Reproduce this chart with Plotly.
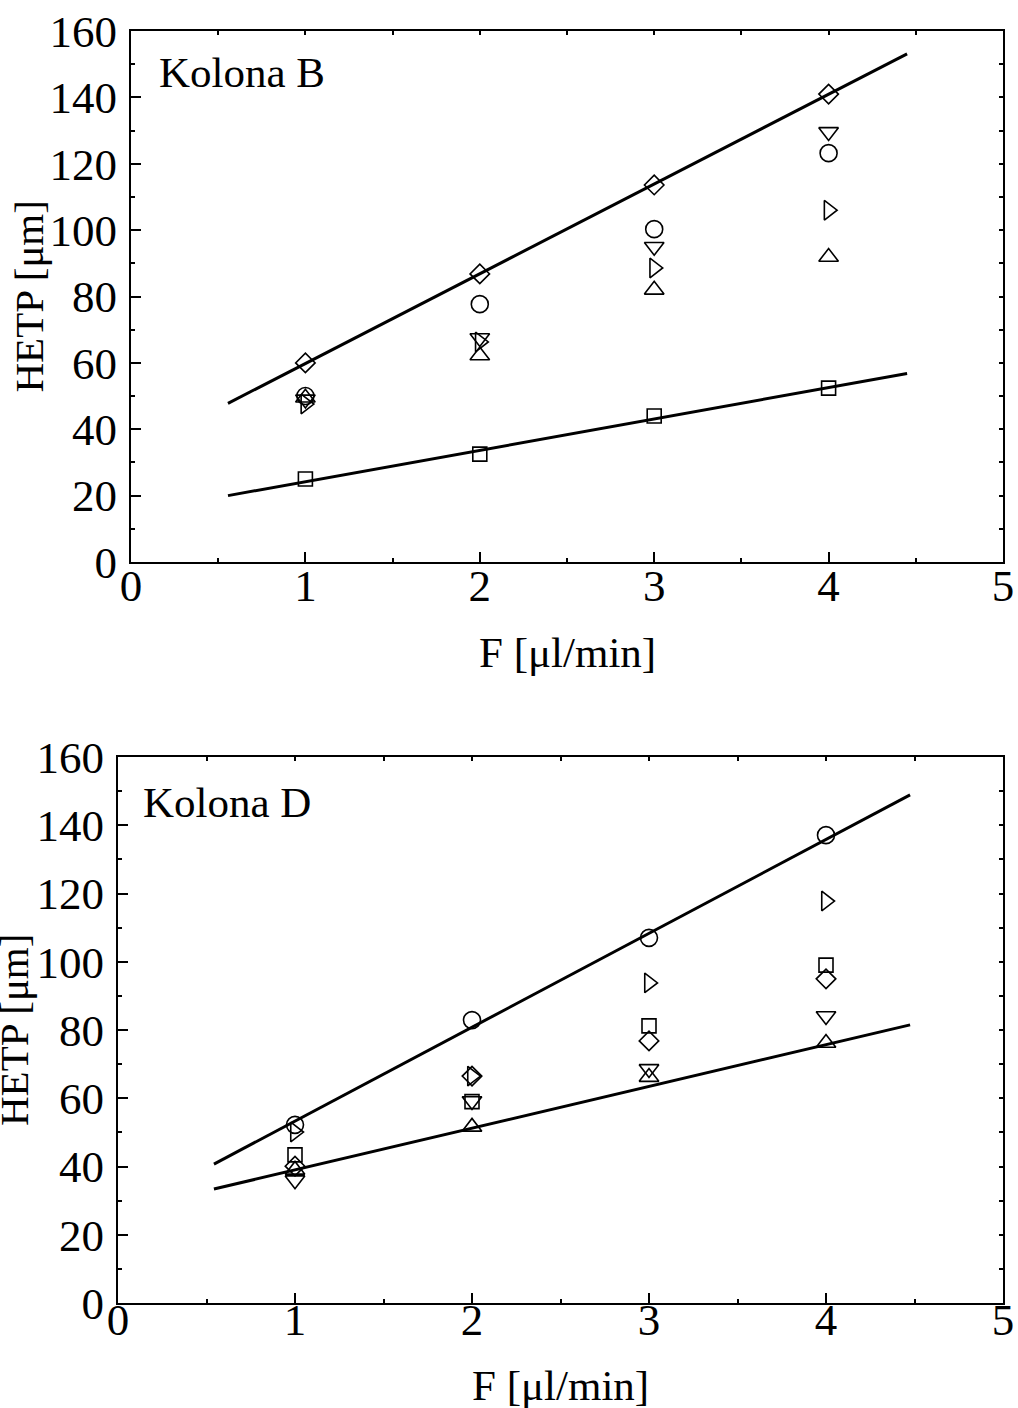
import plotly.graph_objects as go

# ---- Data ----
flow = [1, 2, 3, 4]

# Kolona B
b_diamond = [60.0, 86.8, 113.6, 141.0]
b_circle = [50.0, 77.7, 100.3, 123.2]
b_tri_down = [49.0, 67.5, 95.0, 129.6]
b_tri_right = [47.6, 66.3, 88.6, 106.0]
b_tri_up = [49.5, 62.2, 82.0, 91.9]
b_square = [25.0, 32.5, 44.0, 52.4]
b_fit1_x = [0.556, 4.45]
b_fit1_y = [47.8, 153.1]
b_fit2_x = [0.556, 4.45]
b_fit2_y = [20.0, 56.8]

# Kolona D
d_circle = [52.2, 82.9, 107.0, 137.1]
d_tri_right = [50.1, 66.5, 93.8, 117.8]
d_square = [43.4, 59.0, 81.2, 99.0]
d_diamond = [40.1, 66.5, 76.8, 95.0]
d_tri_down = [36.0, 59.2, 68.6, 84.1]
d_tri_up = [39.0, 51.6, 66.2, 76.2]
d_fit1_x = [0.542, 4.475]
d_fit1_y = [40.7, 148.9]
d_fit2_x = [0.542, 4.475]
d_fit2_y = [33.4, 81.5]

x_ticks = [0, 1, 2, 3, 4, 5]
y_ticks = [0, 20, 40, 60, 80, 100, 120, 140, 160]

FONT = "Liberation Serif"
FS_TICK = 45
FS_TEXT = 43
FS_YTITLE = 41

SIZES = {"circle-open": 17, "diamond-open": 15, "square-open": 14,
         "triangle-up-open": 17, "triangle-down-open": 17,
         "triangle-right-open": 17}

fig = go.Figure()

def add_markers(x, y, symbol, xa, ya):
    fig.add_trace(go.Scatter(
        x=x, y=y, mode="markers", xaxis=xa, yaxis=ya, showlegend=False,
        marker=dict(symbol=symbol, size=SIZES[symbol], color="black",
                    line=dict(color="black", width=1.6))))

def add_line(x, y, xa, ya):
    fig.add_trace(go.Scatter(
        x=x, y=y, mode="lines", xaxis=xa, yaxis=ya, showlegend=False,
        line=dict(color="black", width=3)))

# top panel
add_line(b_fit1_x, b_fit1_y, "x", "y")
add_line(b_fit2_x, b_fit2_y, "x", "y")
add_markers(flow, b_diamond, "diamond-open", "x", "y")
add_markers(flow, b_circle, "circle-open", "x", "y")
add_markers(flow, b_tri_down, "triangle-down-open", "x", "y")
add_markers(flow, b_tri_right, "triangle-right-open", "x", "y")
add_markers(flow, b_tri_up, "triangle-up-open", "x", "y")
add_markers(flow, b_square, "square-open", "x", "y")

# bottom panel
add_line(d_fit1_x, d_fit1_y, "x2", "y2")
add_line(d_fit2_x, d_fit2_y, "x2", "y2")
add_markers(flow, d_circle, "circle-open", "x2", "y2")
add_markers(flow, d_tri_right, "triangle-right-open", "x2", "y2")
add_markers(flow, d_square, "square-open", "x2", "y2")
add_markers(flow, d_diamond, "diamond-open", "x2", "y2")
add_markers(flow, d_tri_down, "triangle-down-open", "x2", "y2")
add_markers(flow, d_tri_up, "triangle-up-open", "x2", "y2")

W, H = 1018, 1408
top_x = [131 / W, 1003 / W]
top_y = [1 - 562 / H, 1 - 31 / H]
bot_x = [118 / W, 1003 / W]
bot_y = [1 - 1303 / H, 1 - 757 / H]

def xaxis(domain, anchor, standoff):
    return dict(domain=domain, anchor=anchor, range=[0, 5], tickvals=x_ticks,
                ticktext=[str(v) for v in x_ticks], ticks="inside", ticklen=10,
                tickwidth=2, tickcolor="black", showline=True, linecolor="black",
                linewidth=2, mirror=True, showgrid=False, zeroline=False,
                automargin=False, ticklabelstandoff=standoff,
                tickfont=dict(family=FONT, size=FS_TICK, color="black"),
                minor=dict(ticks="inside", ticklen=4, dtick=0.5, tick0=0,
                           tickcolor="black", tickwidth=1.5))

def yaxis(domain, anchor):
    return dict(domain=domain, anchor=anchor, range=[0, 160], tickvals=y_ticks,
                ticktext=[str(v) for v in y_ticks], ticks="inside", ticklen=10,
                tickwidth=2, tickcolor="black", showline=True, linecolor="black",
                linewidth=2, mirror=True, showgrid=False, zeroline=False,
                automargin=False, ticklabelstandoff=3,
                tickfont=dict(family=FONT, size=FS_TICK, color="black"),
                minor=dict(ticks="inside", ticklen=4, dtick=10, tick0=0,
                           tickcolor="black", tickwidth=1.5))

def mirror_x(domain, overlay):
    return dict(domain=domain, overlaying=overlay, side="top", range=[0, 5],
                dtick=0.5, tick0=0, ticks="inside", ticklen=4, tickwidth=1.5,
                tickcolor="black", showticklabels=False, showgrid=False,
                zeroline=False, showline=False, automargin=False)

def mirror_y(domain, overlay):
    return dict(domain=domain, overlaying=overlay, side="right", range=[0, 160],
                dtick=10, tick0=0, ticks="inside", ticklen=4, tickwidth=1.5,
                tickcolor="black", showticklabels=False, showgrid=False,
                zeroline=False, showline=False, automargin=False)

fig.update_layout(
    template="none",
    width=W, height=H, margin=dict(l=0, r=0, t=0, b=0, pad=0),
    paper_bgcolor="white", plot_bgcolor="white",
    font=dict(family=FONT, size=FS_TEXT, color="black"),
    xaxis=xaxis(top_x, "y", -17), yaxis=yaxis(top_y, "x"),
    xaxis2=xaxis(bot_x, "y2", -24), yaxis2=yaxis(bot_y, "x2"),
    xaxis3=dict(mirror_x(top_x, "x"), anchor="y"),
    yaxis3=dict(mirror_y(top_y, "y"), anchor="x"),
    xaxis4=dict(mirror_x(bot_x, "x2"), anchor="y2"),
    yaxis4=dict(mirror_y(bot_y, "y2"), anchor="x2"),
)

# invisible traces to activate mirror axes
for xa, ya in [("x3", "y"), ("x", "y3"), ("x4", "y2"), ("x2", "y4")]:
    fig.add_trace(go.Scatter(x=[None], y=[None], xaxis=xa, yaxis=ya,
                             showlegend=False, hoverinfo="skip"))

ann = []
for xr, yr, label, ax_x, ax_y, xs_title, ys_title in [
    ("x", "y", "Kolona B", 0.149, 147.6, -103, -90),
    ("x2", "y2", "Kolona D", 0.13, 146.8, -104, -82),
]:
    ann.append(dict(text=label, x=ax_x, y=ax_y, xref=xr, yref=yr, xanchor="left",
                    yanchor="middle", showarrow=False,
                    font=dict(family=FONT, size=FS_TEXT, color="black")))
    ann.append(dict(text="F [μl/min]", x=0.5, y=0, xref=xr + " domain",
                    yref=yr + " domain", xanchor="center", yanchor="middle",
                    yshift=ys_title, showarrow=False,
                    font=dict(family=FONT, size=FS_TEXT, color="black")))
    ann.append(dict(text="HETP [μm]", x=0, y=0.5, xref=xr + " domain",
                    yref=yr + " domain", xanchor="center", yanchor="middle",
                    xshift=xs_title, textangle=-90, showarrow=False,
                    font=dict(family=FONT, size=FS_YTITLE, color="black")))
fig.update_layout(annotations=ann)

fig.write_html("out.html")
